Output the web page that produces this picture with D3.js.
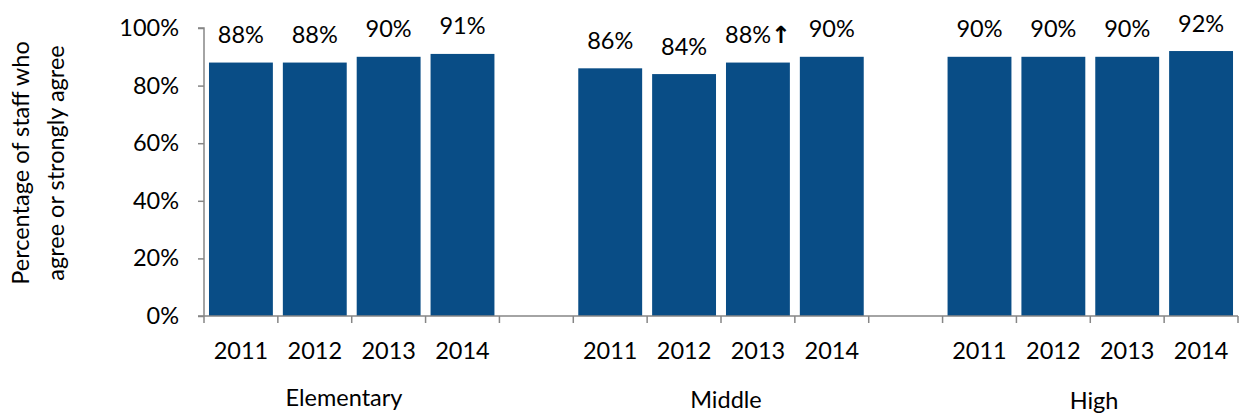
<!DOCTYPE html>
<html>
<head>
<meta charset="utf-8">
<script src="https://cdn.jsdelivr.net/npm/d3@7"></script>
<style>
  html, body { margin: 0; padding: 0; background: #fff; }
  svg { display: block; font-family: Lato, "Open Sans", sans-serif; }
</style>
</head>
<body>
<svg id="chart" width="1239" height="414"></svg>
<script>
// School levels and survey years
const groups = ["Elementary", "Middle", "High"];
const years = ["2011", "2012", "2013", "2014"];

// Percentage of staff who agree or strongly agree, by year
const elementaryValues = [88, 88, 90, 91];
const middleValues = [86, 84, 88, 90];
const highValues = [90, 90, 90, 92];

// Significant-change markers appended to value labels
const elementaryMarkers = ["", "", "", ""];
const middleMarkers = ["", "", "↑", ""];
const highMarkers = ["", "", "", ""];

const yTicks = [0, 20, 40, 60, 80, 100];

const seriesByGroup = {
  Elementary: { values: elementaryValues, markers: elementaryMarkers },
  Middle: { values: middleValues, markers: middleMarkers },
  High: { values: highValues, markers: highMarkers }
};

// Flatten into slots, with an empty slot between groups
const slots = [];
const rows = [];
groups.forEach((g, gi) => {
  years.forEach((yr, i) => {
    const key = g + "-" + yr;
    slots.push(key);
    rows.push({ key, group: g, year: yr,
      value: seriesByGroup[g].values[i],
      marker: seriesByGroup[g].markers[i] });
  });
  if (gi < groups.length - 1) slots.push("gap-" + gi);
});

const svg = d3.select("#chart");
const plotLeft = 204, plotRight = 1238, plotTop = 28, plotBottom = 316;
const axisColor = "#868686";
const barColor = "#094d86";
const textColor = "#000";
const fontSize = 23.5;

const pad = 0.135;
const x = d3.scaleBand().domain(slots).range([plotLeft, plotRight])
  .paddingInner(pad).paddingOuter(pad / 2);
const step = x.step();
const y = d3.scaleLinear().domain([0, 100]).range([plotBottom, plotTop]);

// Bars
svg.append("g").selectAll("rect").data(rows).join("rect")
  .attr("x", d => x(d.key))
  .attr("y", d => y(d.value))
  .attr("width", x.bandwidth())
  .attr("height", d => y(0) - y(d.value))
  .attr("fill", barColor);

// Value labels
const labels = svg.append("g").selectAll("text").data(rows).join("text")
  .attr("x", d => x(d.key) + x.bandwidth() / 2)
  .attr("y", d => y(d.value) - 19.5)
  .attr("text-anchor", "middle")
  .attr("font-size", fontSize)
  .attr("fill", textColor);
labels.append("tspan").text(d => d.value + "%");
labels.filter(d => d.marker).append("tspan")
  .attr("font-family", "DejaVu Sans")
  .attr("font-weight", "bold")
  .attr("font-size", fontSize)
  .text(d => d.marker);

// Y axis
const yAxis = svg.append("g")
  .attr("transform", `translate(${plotLeft},0)`)
  .call(d3.axisLeft(y).tickValues(yTicks).tickSize(6).tickPadding(19)
    .tickFormat(d => d + "%"));
yAxis.select(".domain").attr("stroke", axisColor).attr("stroke-width", 1.5)
  .attr("d", `M-6,${y(100)}H0V${plotBottom}`);
yAxis.selectAll(".tick line").attr("stroke", axisColor).attr("stroke-width", 1.5);
yAxis.selectAll(".tick text").attr("font-size", fontSize).attr("fill", textColor)
  .attr("font-family", "Lato, sans-serif");

// X axis line and slot-boundary ticks
const xAxis = svg.append("g");
xAxis.append("line")
  .attr("x1", plotLeft - 6).attr("x2", plotRight)
  .attr("y1", plotBottom).attr("y2", plotBottom)
  .attr("stroke", axisColor).attr("stroke-width", 1.5);
const boundaries = d3.range(slots.length + 1).map(i => plotLeft + i * step);
xAxis.selectAll("line.tick").data(boundaries).join("line")
  .attr("class", "tick")
  .attr("x1", d => d).attr("x2", d => d)
  .attr("y1", plotBottom).attr("y2", plotBottom + 7)
  .attr("stroke", axisColor).attr("stroke-width", 1.5);

// Year labels
svg.append("g").selectAll("text").data(rows).join("text")
  .attr("x", d => x(d.key) + x.bandwidth() / 2)
  .attr("y", 359)
  .attr("text-anchor", "middle")
  .attr("font-size", fontSize)
  .attr("fill", textColor)
  .text(d => d.year);

// Group labels
const groupLabelPos = { Elementary: [344, 406], Middle: [726, 408], High: [1094, 409] };
svg.append("g").selectAll("text").data(groups).join("text")
  .attr("x", g => groupLabelPos[g][0])
  .attr("y", g => groupLabelPos[g][1])
  .attr("text-anchor", "middle")
  .attr("font-size", fontSize)
  .attr("fill", textColor)
  .text(g => g);

// Y axis title (two lines)
const title = svg.append("text")
  .attr("transform", "translate(40,163) rotate(-90)")
  .attr("text-anchor", "middle")
  .attr("font-size", fontSize)
  .attr("fill", textColor);
title.append("tspan").attr("x", 0).attr("y", -11).text("Percentage of staff who");
title.append("tspan").attr("x", 0).attr("y", 24).text("agree or strongly agree");
</script>
</body>
</html>
